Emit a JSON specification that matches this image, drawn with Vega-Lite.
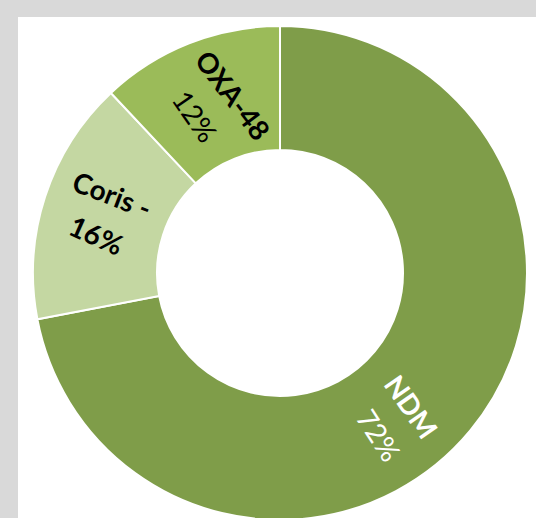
{
  "$schema": "https://vega.github.io/schema/vega-lite/v6.json",
  "width": 518,
  "height": 501,
  "autosize": {"type": "none"},
  "padding": {"left": 18, "top": 17, "right": 0, "bottom": 0},
  "background": "#d9d9d9",
  "view": {"fill": "white", "stroke": null},
  "data": {
    "values": [
      {"name": "NDM", "value": 0.72},
      {"name": "Coris -", "value": 0.16},
      {"name": "OXA-48", "value": 0.12}
    ]
  },
  "encoding": {
    "theta": {"field": "value", "type": "quantitative", "stack": true},
    "order": {"field": "value", "type": "quantitative", "sort": "descending"}
  },
  "layer": [
    {
      "mark": {"type": "arc", "innerRadius": 123, "outerRadius": 247, "stroke": "white", "strokeWidth": 2, "xOffset": 3, "yOffset": 5.5},
      "encoding": {
        "color": {
          "field": "name", "type": "nominal",
          "scale": {"domain": ["NDM", "Coris -", "OXA-48"], "range": ["#7f9d49", "#c4d7a2", "#9bbb59"]},
          "legend": null
        }
      }
    },
    {
      "mark": {"type": "text", "radius": 183, "thetaOffset": 0.105, "angle": 53, "font": "Lato", "fontSize": 28, "fontWeight": "bold", "color": "black", "xOffset": 3, "yOffset": 5.5},
      "encoding": {"text": {"condition": {"test": "datum.name === 'OXA-48'", "field": "name"}, "value": ""}}
    },
    {
      "mark": {"type": "text", "radius": 178, "thetaOffset": -0.134, "angle": 55, "font": "Lato", "fontSize": 28, "fontWeight": "normal", "color": "black", "xOffset": 3, "yOffset": 5.5},
      "encoding": {"text": {"condition": {"test": "datum.name === 'OXA-48'", "field": "value", "type": "quantitative", "format": ".0%"}, "value": ""}}
    },
    {
      "mark": {"type": "text", "radius": 185, "thetaOffset": 0.108, "angle": 21, "font": "Lato", "fontSize": 28, "fontWeight": "bold", "color": "black", "xOffset": 3, "yOffset": 5.5},
      "encoding": {"text": {"condition": {"test": "datum.name === 'Coris -'", "field": "name"}, "value": ""}}
    },
    {
      "mark": {"type": "text", "radius": 188, "thetaOffset": -0.125, "angle": 24, "font": "Lato", "fontSize": 28, "fontWeight": "bold", "color": "black", "xOffset": 3, "yOffset": 5.5},
      "encoding": {"text": {"condition": {"test": "datum.name === 'Coris -'", "field": "value", "type": "quantitative", "format": ".0%"}, "value": ""}}
    },
    {
      "mark": {"type": "text", "radius": 187, "thetaOffset": 0.117, "angle": 55, "font": "Lato", "fontSize": 28, "fontWeight": "bold", "color": "white", "xOffset": 3, "yOffset": 5.5},
      "encoding": {"text": {"condition": {"test": "datum.name === 'NDM'", "field": "name"}, "value": ""}}
    },
    {
      "mark": {"type": "text", "radius": 190, "thetaOffset": 0.346, "angle": 57, "font": "Lato", "fontSize": 28, "fontWeight": "normal", "color": "white", "xOffset": 3, "yOffset": 5.5},
      "encoding": {"text": {"condition": {"test": "datum.name === 'NDM'", "field": "value", "type": "quantitative", "format": ".0%"}, "value": ""}}
    }
  ]
}
